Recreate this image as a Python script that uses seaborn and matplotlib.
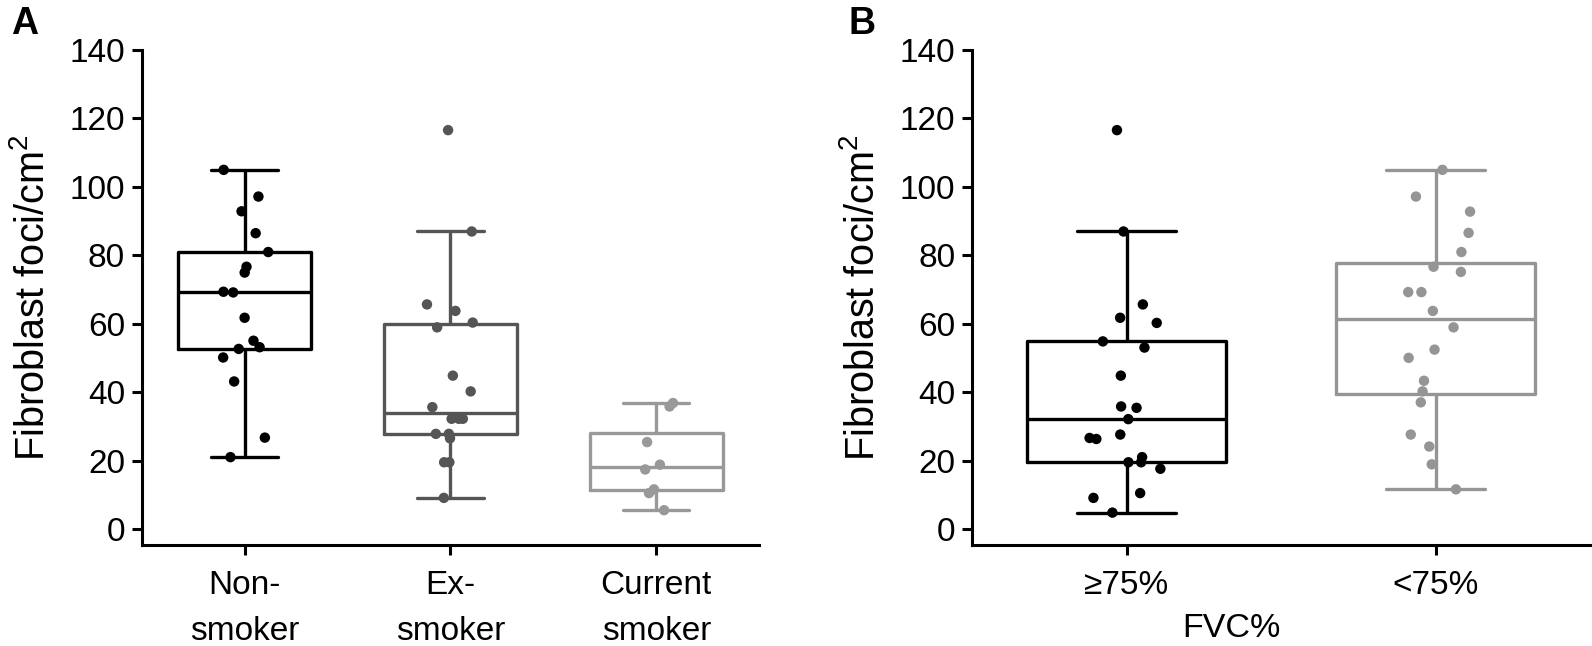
import numpy as np
import pandas as pd
import seaborn as sns
import matplotlib.pyplot as plt

# Fibroblast foci / cm2
smoking_groups = ["Non-\nsmoker", "Ex-\nsmoker", "Current\nsmoker"]
non_smoker = [105.0, 97.2, 92.9, 86.5, 81.0, 76.7, 75.0, 69.4, 69.2, 61.8,
              55.1, 53.2, 52.7, 50.2, 43.2, 26.8, 21.1]
ex_smoker = [116.6, 87.0, 65.7, 63.8, 60.4, 59.0, 44.9, 40.3, 35.7, 32.3,
             32.3, 32.3, 27.9, 27.9, 26.6, 19.6, 19.6, 9.2]
current_smoker = [36.9, 35.9, 25.5, 18.9, 17.5, 11.7, 10.6, 5.6]
smoking_colors = ["#000000", "#555555", "#999999"]

fvc_groups = ["≥75%", "<75%"]
fvc_high = [116.6, 87.0, 65.7, 61.8, 60.3, 54.9, 53.1, 44.9, 35.9, 35.5,
            32.2, 27.7, 26.7, 26.4, 21.1, 19.6, 19.6, 17.7, 10.6, 9.2, 4.9]
fvc_low = [105.0, 97.2, 92.8, 86.6, 81.0, 76.7, 75.2, 69.3, 69.3, 63.8,
           59.0, 52.5, 50.1, 43.4, 40.3, 37.1, 27.7, 24.2, 19.0, 11.7]
fvc_colors = ["#000000", "#959595"]

y_ticks = [0, 20, 40, 60, 80, 100, 120, 140]

# long-form tables
smoking = pd.DataFrame({
    "group": [smoking_groups[0]] * len(non_smoker) + [smoking_groups[1]] * len(ex_smoker)
             + [smoking_groups[2]] * len(current_smoker),
    "foci": non_smoker + ex_smoker + current_smoker,
})
fvc = pd.DataFrame({
    "group": [fvc_groups[0]] * len(fvc_high) + [fvc_groups[1]] * len(fvc_low),
    "foci": fvc_high + fvc_low,
})

sns.set_style("ticks")
plt.rcParams["font.family"] = ["Liberation Sans", "DejaVu Sans"]
plt.rcParams["mathtext.fontset"] = "custom"
plt.rcParams["mathtext.rm"] = "Liberation Sans"
plt.rcParams["text.color"] = "black"
plt.rcParams["axes.labelcolor"] = "black"
plt.rcParams["axes.edgecolor"] = "black"
np.random.seed(7)

fig = plt.figure(figsize=(15.92, 6.46), dpi=100)
ax_a = fig.add_axes([0.089, 0.1556, 0.3879, 0.767])
ax_b = fig.add_axes([0.6106, 0.1556, 0.3882, 0.767])


def draw_panel(ax, df, order, colors):
    sns.boxplot(data=df, x="group", y="foci", hue="group", order=order, hue_order=order,
                palette=colors, fill=False, width=0.645, linewidth=2.4,
                showfliers=False, legend=False, ax=ax)
    sns.stripplot(data=df, x="group", y="foci", hue="group", order=order, hue_order=order,
                  palette=colors, jitter=0.12, size=7.5, linewidth=0,
                  legend=False, ax=ax, zorder=3)
    ax.set_ylim(-4.7, 140)
    ax.set_xlim(-0.5, len(order) - 0.5)
    ax.set_yticks(y_ticks)
    ax.set_ylabel("Fibroblast foci/cm$^{\\mathrm{2}}$", fontsize=28.5)
    ax.yaxis.set_label_coords(-0.145, 0.5)
    ax.set_xlabel("")
    sns.despine(ax=ax)
    for side in ["left", "bottom"]:
        ax.spines[side].set_linewidth(2.2)
        ax.spines[side].set_color("black")
    ax.tick_params(axis="both", length=7, width=2.2, labelsize=24, colors="black")
    ax.tick_params(axis="y", pad=5)
    ax.tick_params(axis="x", pad=11)
    for lbl in ax.get_xticklabels():
        lbl.set_linespacing(1.6)


draw_panel(ax_a, smoking, smoking_groups, smoking_colors)
draw_panel(ax_b, fvc, fvc_groups, fvc_colors)
ax_b.set_xlabel("FVC%", fontsize=24.5)
ax_b.xaxis.set_label_coords(0.419, -0.137)

fig.text(0.007, 0.99, "A", fontsize=27, fontweight="bold", va="top")
fig.text(0.533, 0.99, "B", fontsize=27, fontweight="bold", va="top")

fig.savefig("out.png", dpi=100)
